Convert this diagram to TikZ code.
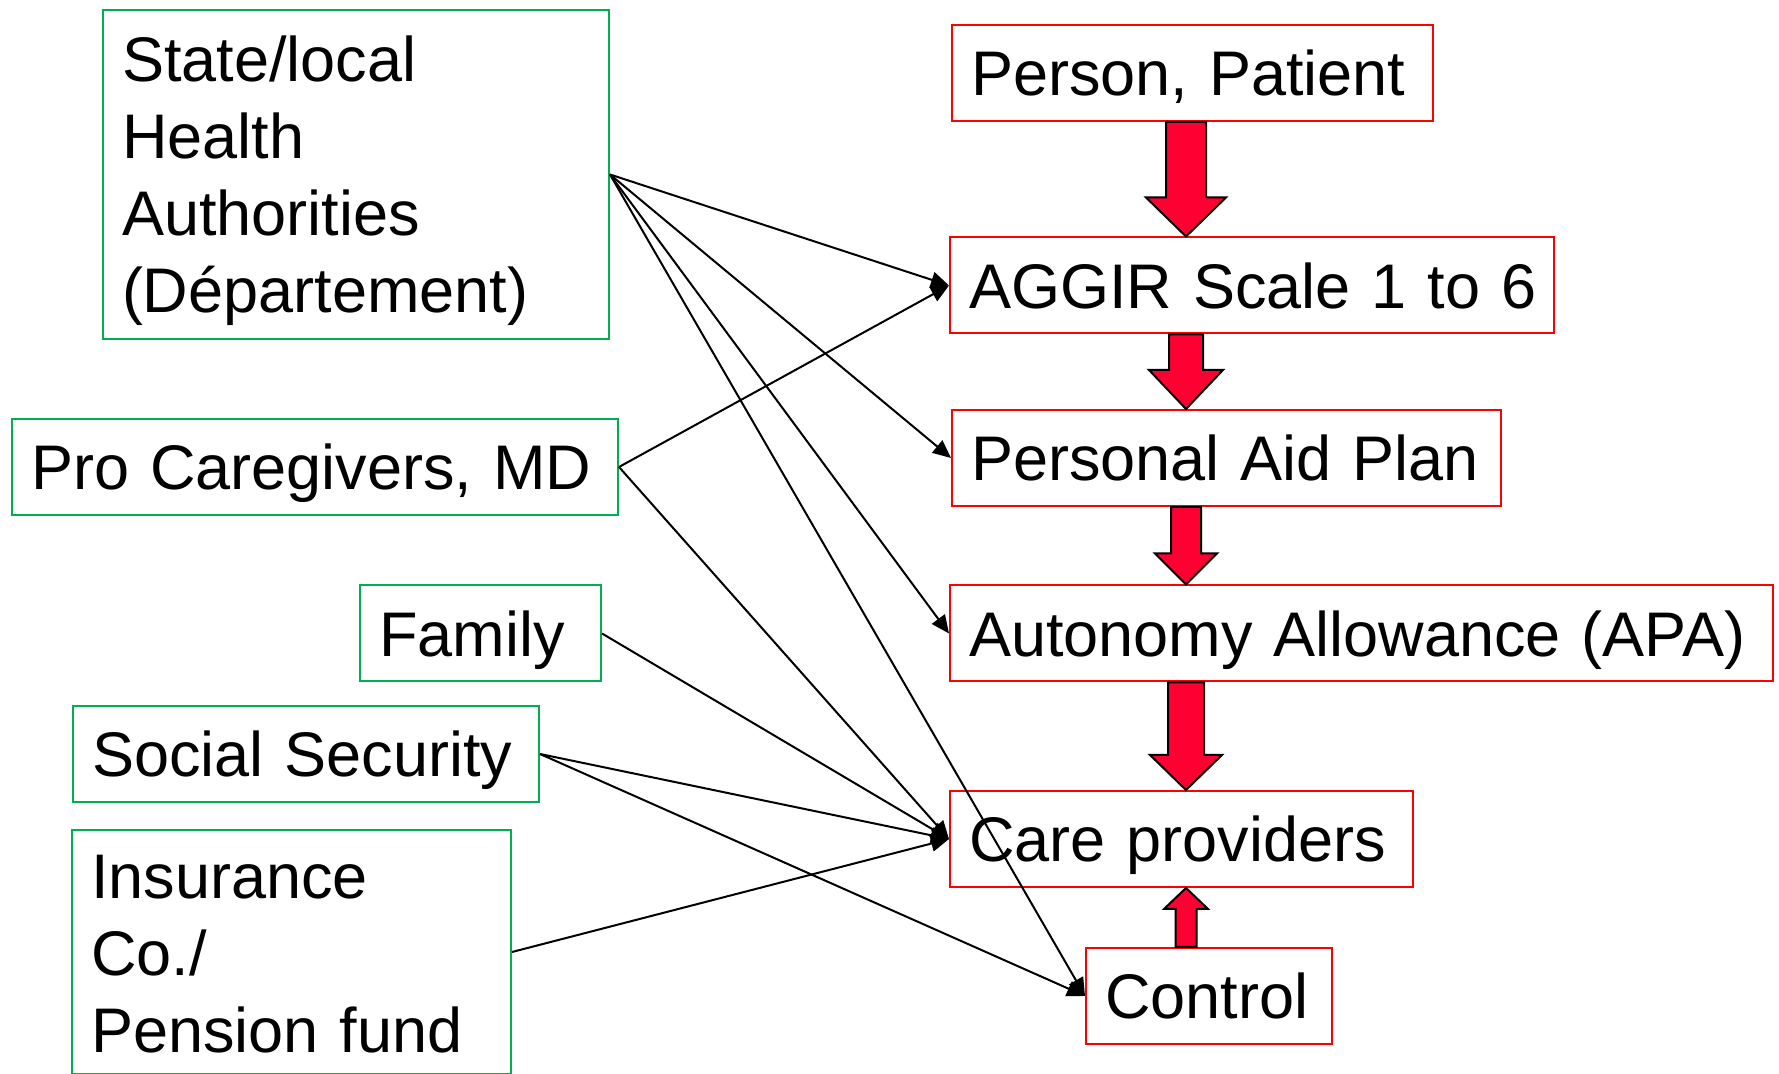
\documentclass[tikz,border=0pt]{standalone}
\usepackage{fontspec}
\setmainfont{Liberation Sans}
\usepackage{xcolor}
\usepackage{tikz}
\usetikzlibrary{calc}
\usetikzlibrary{arrows.meta}
\definecolor{srcgreen}{RGB}{0,176,80}
\definecolor{boxred}{RGB}{255,0,0}
\definecolor{arrowred}{RGB}{255,0,51}
\newcommand{\boxfont}{\fontsize{17.93pt}{21.9pt}\selectfont}
\tikzset{%
  bshaft/.store in = \bshaft, bhead/.store in = \bhead, blen/.store in = \blen,
  bshaft = 2mm, bhead = 4mm, blen = 3.9mm,
  src/.style = {rectangle,draw=srcgreen,line width=0.2mm,inner xsep=1.9mm,
        inner ysep=0pt,align=left,minimum height=9.6mm,
        text height=6mm,text depth=1.46mm,font=\boxfont},
  dst/.style = {src,draw=boxred},
  link/.style = {-{Triangle[length=1.8mm,width=1.6mm]},line width=0.2mm},
  bigarrow/.style = {fill=arrowred,draw=black,line width=0.2mm,
        to path={let \p1=($(\tikztotarget)!\blen!(\tikztostart)$) in
          ($(\tikztostart)!\bshaft!90:(\tikztotarget)$)
          -- ($(\p1)!\bshaft!90:(\tikztotarget)$)
          -- ($(\p1)!\bhead!90:(\tikztotarget)$)
          -- (\tikztotarget)
          -- ($(\p1)!\bhead!-90:(\tikztotarget)$)
          -- ($(\p1)!\bshaft!-90:(\tikztotarget)$)
          -- ($(\tikztostart)!\bshaft!-90:(\tikztotarget)$) -- cycle}}
}

\begin{document}
\begin{tikzpicture}[x=0.1mm,y=-0.1mm]
  \path[use as bounding box,clip] (0,0) rectangle (1779,1074);

  % who is involved
  \node[src,text width=46.8mm,minimum height=32.9mm,text height=4.6mm,text depth=23.1mm]
        (state) at (356,174.5) {State/local\\Health\\Authorities\\(Département)};
  \node[src,text width=56.8mm] (pro) at (315,467) {Pro Caregivers, MD};
  \node[src,text width=20.3mm] (family) at (480.5,633.5) {Family};
  \node[src,text width=42.8mm] (social) at (306,754) {Social Security};
  \node[src,text width=40.1mm,minimum height=24.4mm,text height=4.6mm,text depth=15.2mm]
        (insur) at (291.5,952) {Insurance\\Co./\\Pension fund};

  % the steps
  \node[dst,text width=44.3mm] (person) at (1192.5,73) {Person, Patient};
  \node[dst,text width=56.6mm] (aggir) at (1252,285.5) {\mbox{AGGIR Scale 1 to 6}};
  \node[dst,text width=51.1mm] (plan) at (1226.5,458) {Personal Aid Plan};
  \node[dst,text width=78.5mm] (apa) at (1361.5,633.5) {\mbox{Autonomy Allowance (APA)}};
  \node[dst,text width=42.5mm] (care) at (1181.5,839) {Care providers};
  \node[dst,text width=20.8mm] (control) at (1209,996) {Control};

  \coordinate (axis) at (1186,0);
  \draw[bigarrow,bshaft=2mm,bhead=4mm,blen=3.9mm] (person.south -| axis) to (aggir.north -| axis);
  \draw[bigarrow,bshaft=1.7mm,bhead=3.7mm,blen=3.9mm] (aggir.south -| axis) to (plan.north -| axis);
  \draw[bigarrow,bshaft=1.5mm,bhead=3.1mm,blen=3.1mm] (plan.south -| axis) to (apa.north -| axis);
  \draw[bigarrow,bshaft=1.8mm,bhead=3.6mm,blen=3.5mm] (apa.south -| axis) to (care.north -| axis);
  \draw[bigarrow,bshaft=1.05mm,bhead=2.2mm,blen=2.1mm] (control.north -| axis) to (care.south -| axis);

  \draw[link] (state.east) -- (aggir.west);
  \draw[link] (state.east) -- (plan.west);
  \draw[link] (state.east) -- (apa.west);
  \draw[link] (state.east) -- (control.west);
  \draw[link] (pro.east) -- (aggir.west);
  \draw[link] (pro.east) -- (care.west);
  \draw[link] (family.east) -- (care.west);
  \draw[link] (social.east) -- (care.west);
  \draw[link] (social.east) -- (control.west);
  \draw[link] (insur.east) -- (care.west);
\end{tikzpicture}
\end{document}
